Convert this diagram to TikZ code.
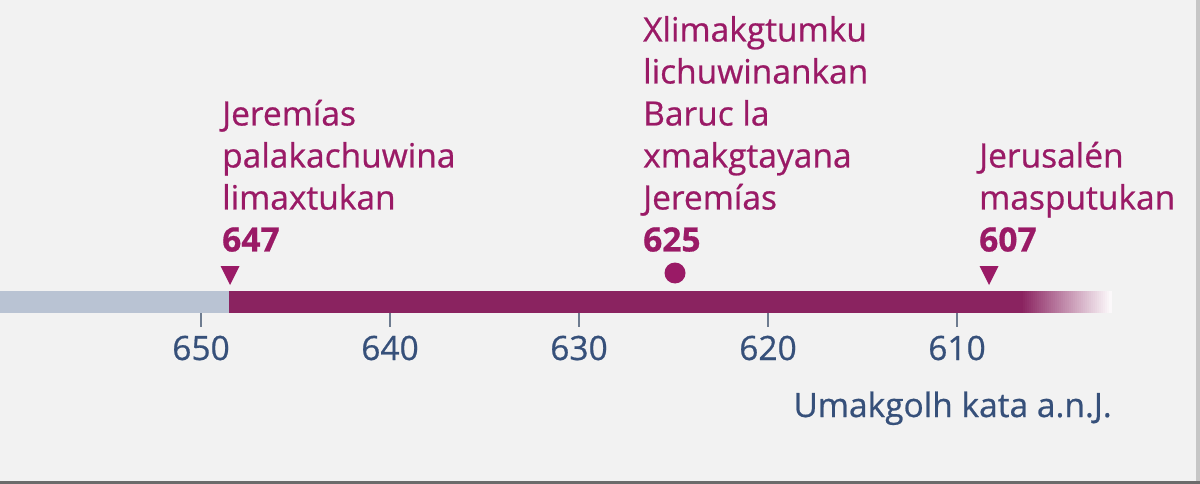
\documentclass[tikz,border=0pt]{standalone}
\usepackage{fontspec}
\setmainfont{Open Sans}[FakeBold=0.6]
\definecolor{bg}{HTML}{F2F2F2}
\definecolor{evtxt}{HTML}{9A1A66}
\definecolor{barp}{HTML}{8A2360}
\definecolor{barg}{HTML}{B9C3D3}
\definecolor{axtxt}{HTML}{36507A}
\definecolor{tickc}{HTML}{6E7C90}
\tikzset{
  evlabel/.style={anchor=south west, inner sep=0pt, align=left, text=evtxt,
    font=\fontsize{33.5}{42}\selectfont},
  ticklabel/.style={anchor=base, inner sep=0pt, text=axtxt,
    font=\fontsize{33.5}{40}\selectfont},
  tickmark/.style={draw=tickc, line width=2.2pt},
  marker/.style={fill=evtxt, draw=none}
}
\begin{document}
\begin{tikzpicture}[x=1pt,y=-1pt]
\useasboundingbox (0,0) rectangle (1200,484);
\fill[bg] (0,0) rectangle (1200,484);
\fill[gray!45] (1196,0) rectangle (1200,484);
\fill[black!58] (0,481) rectangle (1200,484);
% bar
\fill[barg] (0,291) rectangle (229,313);
\fill[barp] (229,291) rectangle (1022,313);
\foreach \i in {0,...,44}{
  \pgfmathsetmacro{\pc}{100-2.2*\i}
  \pgfmathsetmacro{\xa}{1021+2*\i}
  \pgfmathsetmacro{\xb}{\xa+2.6}
  \fill[barp!\pc!white] (\xa,291) rectangle (\xb,313);
}
% ticks and labels
\foreach \yr/\xx in {650/201,640/390,630/579,620/768,610/957}{
  \draw[tickmark] (\xx,313) -- (\xx,327);
  \node[ticklabel] (t\yr) at (\xx,360) {\yr};
}
% markers
\fill[marker] (220.5,266) -- (239.5,266) -- (230,285) -- cycle;
\fill[marker] (675,273) circle (10.5);
\fill[marker] (979.5,266) -- (998.5,266) -- (989,285) -- cycle;
% event labels
\node[evlabel] (e647) at (222,252) {Jeremías\\palakachuwina\\limaxtukan\\\textbf{647}};
\node[evlabel] (e625) at (643,252) {Xlimakgtumku\\lichuwinankan\\Baruc la\\xmakgtayana\\Jeremías\\\textbf{625}};
\node[evlabel] (e607) at (979,252) {Jerusalén\\masputukan\\\textbf{607}};
% axis caption
\node[anchor=base east, inner sep=0pt, text=axtxt, font=\fontsize{33.5}{40}\selectfont] (cap) at (1112,417) {Umakgolh kata a.n.J.};
\end{tikzpicture}
\end{document}
